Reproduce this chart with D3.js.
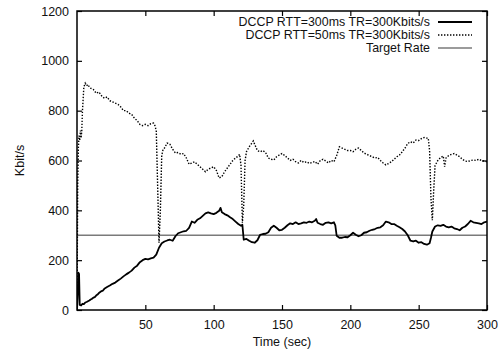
<!DOCTYPE html>
<html>
<head>
<meta charset="utf-8">
<script src="https://cdn.jsdelivr.net/npm/d3@7"></script>
<style>
  body { margin: 0; background: #fff; }
  text { font-family: "Liberation Sans", Arial, sans-serif; fill: #111; }
</style>
</head>
<body>
<div id="chart"></div>
<script>
// [time (sec), Kbit/s]
const rtt300 = [
  [0,0],[0.5,60],[1,150],[1.5,145],[2,20],[3,18],[4,25],[5,24],[6,30],[7,32],[8,35],[9,38],
  [10,42],[11,45],[12,50],[13,52],[14,58],[15,62],[16,68],[17,72],[18,76],[19,78],[20,85],
  [22,92],[24,98],[26,105],[28,110],[30,118],[32,126],[34,135],[36,143],[38,150],[40,158],
  [42,170],[44,178],[46,192],[48,200],[50,205],[52,203],[54,207],[56,210],[58,222],[60,250],
  [62,268],[64,275],[66,279],[68,282],[70,278],[72,296],[74,308],[76,312],[78,316],[80,318],
  [82,330],[84,355],[86,350],[88,362],[90,368],[92,378],[94,388],[96,392],[98,388],[100,385],
  [102,390],[104,398],[105,410],[106,392],[108,385],[110,380],[112,372],[114,365],[116,355],
  [118,345],[120,338],[121,342],[122,282],[124,285],[126,278],[128,272],[130,270],[132,280],
  [134,302],[136,305],[138,306],[140,312],[142,330],[144,338],[146,330],[148,320],[150,322],
  [152,330],[154,340],[156,348],[158,345],[160,352],[162,345],[164,348],[166,352],[168,350],
  [170,355],[172,352],[174,358],[175,365],[176,350],[178,345],[180,342],[182,350],[184,352],
  [186,348],[188,352],[189,340],[190,298],[192,290],[194,290],[196,293],[198,292],[200,300],
  [202,310],[204,302],[206,296],[208,300],[210,310],[212,312],[214,318],[216,322],[218,325],
  [220,330],[222,332],[224,340],[226,355],[228,352],[230,345],[232,345],[234,338],[236,332],
  [238,325],[240,315],[242,300],[244,278],[246,275],[248,278],[250,270],[252,272],[254,265],
  [256,262],[258,268],[259,290],[260,315],[262,335],[264,340],[266,338],[268,342],[270,335],
  [272,332],[274,335],[276,328],[278,325],[280,320],[282,330],[284,335],[286,345],[288,358],
  [290,352],[292,350],[294,348],[296,345],[298,352],[300,355]
];

const rtt50 = [
  [0,0],[0.5,500],[1,650],[1.5,700],[2,680],[2.5,720],[3,690],[3.5,720],[4,800],[5,895],
  [6,910],[7,900],[8,905],[9,895],[10,890],[12,885],[14,870],[16,875],[18,860],[20,850],
  [22,855],[24,840],[26,835],[28,830],[30,825],[32,815],[34,800],[36,800],[38,790],[40,785],
  [42,770],[44,760],[46,745],[48,740],[50,745],[52,740],[54,748],[56,750],[57,740],[58,720],
  [59,500],[60,270],[61,400],[62,620],[63,645],[64,650],[66,670],[68,665],[70,645],[72,630],
  [74,632],[76,625],[78,628],[80,610],[82,585],[84,590],[86,595],[88,585],[90,575],[92,565],
  [94,555],[96,565],[98,570],[100,575],[102,560],[104,530],[106,535],[108,555],[110,570],
  [112,585],[114,600],[116,610],[118,618],[119,625],[120,580],[121,350],[122,420],[123,600],
  [124,635],[126,655],[128,670],[129,678],[130,665],[132,640],[134,635],[136,640],[138,632],
  [140,610],[142,605],[144,602],[146,615],[148,622],[150,628],[152,620],[154,610],[156,600],
  [158,605],[160,595],[162,590],[164,600],[166,592],[168,595],[170,588],[172,592],[174,596],
  [176,585],[178,600],[180,605],[182,598],[184,590],[186,600],[188,595],[190,620],[192,655],
  [194,650],[196,645],[198,640],[200,640],[202,635],[204,645],[206,650],[208,640],[210,630],
  [212,625],[214,620],[216,615],[218,610],[220,612],[222,600],[224,590],[226,582],[228,588],
  [230,595],[232,605],[234,615],[236,622],[238,635],[240,650],[242,668],[244,675],[246,670],
  [248,682],[250,680],[252,688],[254,692],[256,690],[257,690],[258,640],[259,450],[260,360],
  [261,480],[262,580],[264,600],[266,612],[268,618],[269,575],[270,610],[272,620],[274,625],
  [276,628],[278,622],[280,615],[282,605],[284,598],[286,596],[288,600],[290,602],[292,600],
  [294,605],[296,600],[298,598],[300,595]
];

const targetRate = 300;
const xTicks = [50, 100, 150, 200, 250, 300];
const yTicks = [0, 200, 400, 600, 800, 1000, 1200];
const legendLabels = ["DCCP RTT=300ms TR=300Kbits/s", "DCCP RTT=50ms TR=300Kbits/s", "Target Rate"];

const W = 498, H = 352;
const margin = { top: 11, right: 11, bottom: 42, left: 77 };
const width = W - margin.left - margin.right;
const height = H - margin.top - margin.bottom;

const svg = d3.select("#chart").append("svg")
    .attr("width", W)
    .attr("height", H);

const g = svg.append("g")
    .attr("transform", "translate(" + margin.left + "," + margin.top + ")");

const x = d3.scaleLinear().domain([0, 300]).range([0, width]);
const y = d3.scaleLinear().domain([0, 1200]).range([height, 0]);

g.append("defs").append("clipPath").attr("id", "clip")
  .append("rect").attr("width", width).attr("height", height);

//axes, ticks point inward on every side
const fontSize = "12.5px";
const fmt = d3.format("d");
const axisBottomG = g.append("g").attr("transform", "translate(0," + height + ")")
    .call(d3.axisBottom(x).tickValues(xTicks).tickFormat(fmt).tickSize(-5).tickPadding(10));
const axisLeftG = g.append("g")
    .call(d3.axisLeft(y).tickValues(yTicks).tickFormat(fmt).tickSize(-5).tickPadding(8));
const axisTopG = g.append("g")
    .call(d3.axisTop(x).tickValues(xTicks).tickSize(-5).tickFormat(""));
const axisRightG = g.append("g").attr("transform", "translate(" + width + ",0)")
    .call(d3.axisRight(y).tickValues(yTicks).tickSize(-5).tickFormat(""));

[axisBottomG, axisLeftG, axisTopG, axisRightG].forEach(a => {
    a.select(".domain").remove();
    a.selectAll("line").attr("stroke", "#000").attr("stroke-width", 1.2);
    a.selectAll("text").attr("font-size", fontSize)
      .attr("font-family", '"Liberation Sans", Arial, sans-serif').attr("fill", "#111");
});

//target rate
g.append("line")
    .attr("x1", x(0)).attr("x2", x(300))
    .attr("y1", y(targetRate)).attr("y2", y(targetRate))
    .attr("stroke", "#7a7a7a").attr("stroke-width", 1.6);

const line = d3.line().x(d => x(d[0])).y(d => y(d[1]));

g.append("path").datum(rtt50)
    .attr("clip-path", "url(#clip)")
    .attr("d", line)
    .attr("fill", "none")
    .attr("stroke", "#000")
    .attr("stroke-width", 1.4)
    .attr("stroke-dasharray", "1.4,1.6");

g.append("path").datum(rtt300)
    .attr("clip-path", "url(#clip)")
    .attr("d", line)
    .attr("fill", "none")
    .attr("stroke", "#000")
    .attr("stroke-width", 1.8)
    .attr("stroke-linejoin", "round");

//frame
g.append("rect")
    .attr("width", width).attr("height", height)
    .attr("fill", "none").attr("stroke", "#000").attr("stroke-width", 1.5);

//legend
const legendStyles = [
    { stroke: "#000", width: 1.8, dash: null },
    { stroke: "#000", width: 1.4, dash: "1.4,1.6" },
    { stroke: "#7a7a7a", width: 1.6, dash: null }
];
const legend = svg.append("g");
legendLabels.forEach((label, i) => {
    const ly = 22 + i * 13;
    legend.append("text")
        .attr("x", 430).attr("y", ly)
        .attr("dy", "0.35em")
        .attr("text-anchor", "end")
        .attr("font-size", "12.4px")
        .text(label);
    legend.append("line")
        .attr("x1", 438).attr("x2", 472)
        .attr("y1", ly).attr("y2", ly)
        .attr("stroke", legendStyles[i].stroke)
        .attr("stroke-width", legendStyles[i].width)
        .attr("stroke-dasharray", legendStyles[i].dash);
});

//axis titles
svg.append("text")
    .attr("x", margin.left + width / 2).attr("y", 346)
    .attr("text-anchor", "middle")
    .attr("font-size", fontSize)
    .text("Time (sec)");

svg.append("text")
    .attr("transform", "translate(24," + (margin.top + height / 2) + ") rotate(-90)")
    .attr("text-anchor", "middle")
    .attr("font-size", fontSize)
    .text("Kbit/s");
</script>
</body>
</html>
